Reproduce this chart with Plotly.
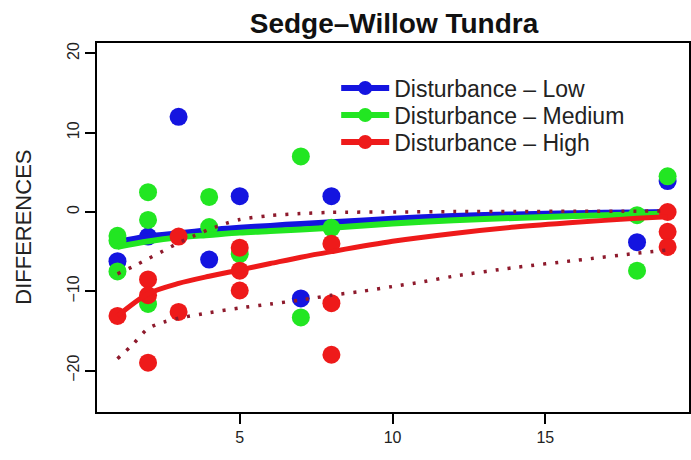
import plotly.graph_objects as go

# ---- data ----
blue_x = [1, 2, 3, 4, 5, 7, 8, 18, 19]
blue_y = [-6.2, -3.1, 12.0, -6.0, 2.0, -10.9, 2.0, -3.8, 3.9]

green_x = [1, 1, 1, 2, 2, 2, 4, 4, 5, 7, 7, 8, 18, 18, 19]
green_y = [-3.0, -3.6, -7.5, 2.5, -1.0, -11.6, 1.9, -1.9, -5.3, 7.0, -13.3, -2.0, -0.4, -7.4, 4.5]

red_x = [1, 2, 2, 2, 3, 3, 5, 5, 5, 8, 8, 8, 19, 19, 19]
red_y = [-13.1, -8.5, -10.5, -19.0, -3.1, -12.6, -4.5, -7.4, -9.9, -4.0, -11.5, -18.0, 0.0, -2.5, -4.4]

fit_x = [1, 2, 3, 4, 5, 6, 7, 8, 10, 12, 14, 16, 18, 19]
blue_fit = [-3.8, -3.1, -2.7, -2.3, -2.0, -1.75, -1.5, -1.3, -0.85, -0.5, -0.3, -0.15, -0.05, 0.0]
green_fit = [-4.4, -3.7, -3.2, -2.9, -2.6, -2.4, -2.2, -2.0, -1.45, -1.05, -0.75, -0.5, -0.3, -0.2]
red_fit = [-13.1, -10.3, -9.0, -8.1, -7.3, -6.5, -5.7, -5.0, -3.7, -2.7, -1.9, -1.3, -0.8, -0.6]

upper_x = [1, 1.5, 2, 2.5, 3, 3.5, 4, 4.5, 5, 6, 7, 8, 10, 12, 14, 16, 18, 19]
upper_y = [-7.8, -6.9, -5.9, -4.9, -3.9, -3.0, -2.2, -1.5, -0.95, -0.45, -0.2, -0.05, 0.0, 0.05, 0.05, 0.1, 0.1, 0.15]

lower_x = [1, 1.5, 2, 2.5, 3, 4, 5, 6, 7, 8, 9, 10, 11, 12, 14, 16, 18, 19]
lower_y = [-18.5, -16.7, -14.7, -13.9, -13.4, -12.7, -12.1, -11.6, -11.1, -10.5, -10.0, -9.4, -8.8, -8.1, -7.0, -6.1, -5.2, -4.8]

series_names = ["Disturbance \u2013 Low", "Disturbance \u2013 Medium", "Disturbance \u2013 High"]
colors = ["#1414e0", "#22e622", "#ee1a1a"]
band_color = "#8e1a2c"

x_ticks = [5, 10, 15]
y_ticks = [-20, -10, 0, 10, 20]

fig = go.Figure()

pts = [(blue_x, blue_y), (green_x, green_y), (red_x, red_y)]
fits = [blue_fit, green_fit, red_fit]
widths = [6, 6, 5]
for (px, py), fy, c, w in zip(pts, fits, colors, widths):
    fig.add_trace(go.Scatter(x=px, y=py, mode="markers", showlegend=False,
                             marker=dict(size=18, color=c, line=dict(width=0))))
    fig.add_trace(go.Scatter(x=fit_x, y=fy, mode="lines", showlegend=False,
                             line=dict(color=c, width=w, shape="spline", smoothing=0.8)))

for bx, by in [(upper_x, upper_y), (lower_x, lower_y)]:
    fig.add_trace(go.Scatter(x=bx, y=by, mode="lines", showlegend=False,
                             line=dict(color=band_color, width=3.5, dash="3px,9px",
                                       shape="spline", smoothing=0.8)))

legend_ids = ["legend", "legend2", "legend3"]
for name, c, lid in zip(series_names, colors, legend_ids):
    fig.add_trace(go.Scatter(x=[None], y=[None], mode="lines+markers", name=name,
                             legend=lid,
                             line=dict(color=c, width=6),
                             marker=dict(size=14, color=c)))

axis_common = dict(showline=True, linecolor="black", linewidth=2, mirror=True,
                   ticks="outside", ticklen=10, tickwidth=2, tickcolor="black",
                   showgrid=False, zeroline=False,
                   tickfont=dict(family="Liberation Sans, Arial", size=16, color="#222"))

legend_rows_px = [88, 115, 142]
legend_font = dict(family="Liberation Sans, Arial", size=23, color="#222")
legends = {}
for lid, row in zip(legend_ids, legend_rows_px):
    legends[lid] = dict(x=(337 - 97) / 594, y=(412 - row) / 369, xanchor="left",
                        yanchor="middle", bgcolor="rgba(0,0,0,0)", borderwidth=0,
                        itemwidth=48, font=legend_font)

fig.update_layout(
    width=691, height=460,
    margin=dict(l=97, r=0, t=43, b=48),
    paper_bgcolor="white", plot_bgcolor="white",
    title=dict(text="<b>Sedge\u2013Willow Tundra</b>", x=394/691, xanchor="center",
               xref="container", yref="container", y=1-23/460, yanchor="middle",
               font=dict(family="Liberation Sans, Arial", size=28, color="#111")),
    xaxis=dict(range=[0.33, 19.7], tickvals=x_ticks, **axis_common),
    yaxis=dict(range=[-25.22, 21.31], tickvals=y_ticks, tickangle=-90, **axis_common),
    annotations=[dict(text="DIFFERENCES", textangle=-90, showarrow=False,
                      xref="paper", yref="paper", x=(23-97)/594, y=0.5,
                      xanchor="center", yanchor="middle",
                      font=dict(family="Liberation Sans, Arial", size=22, color="#222"))],
    **legends,
)

fig.write_html("out.html")
